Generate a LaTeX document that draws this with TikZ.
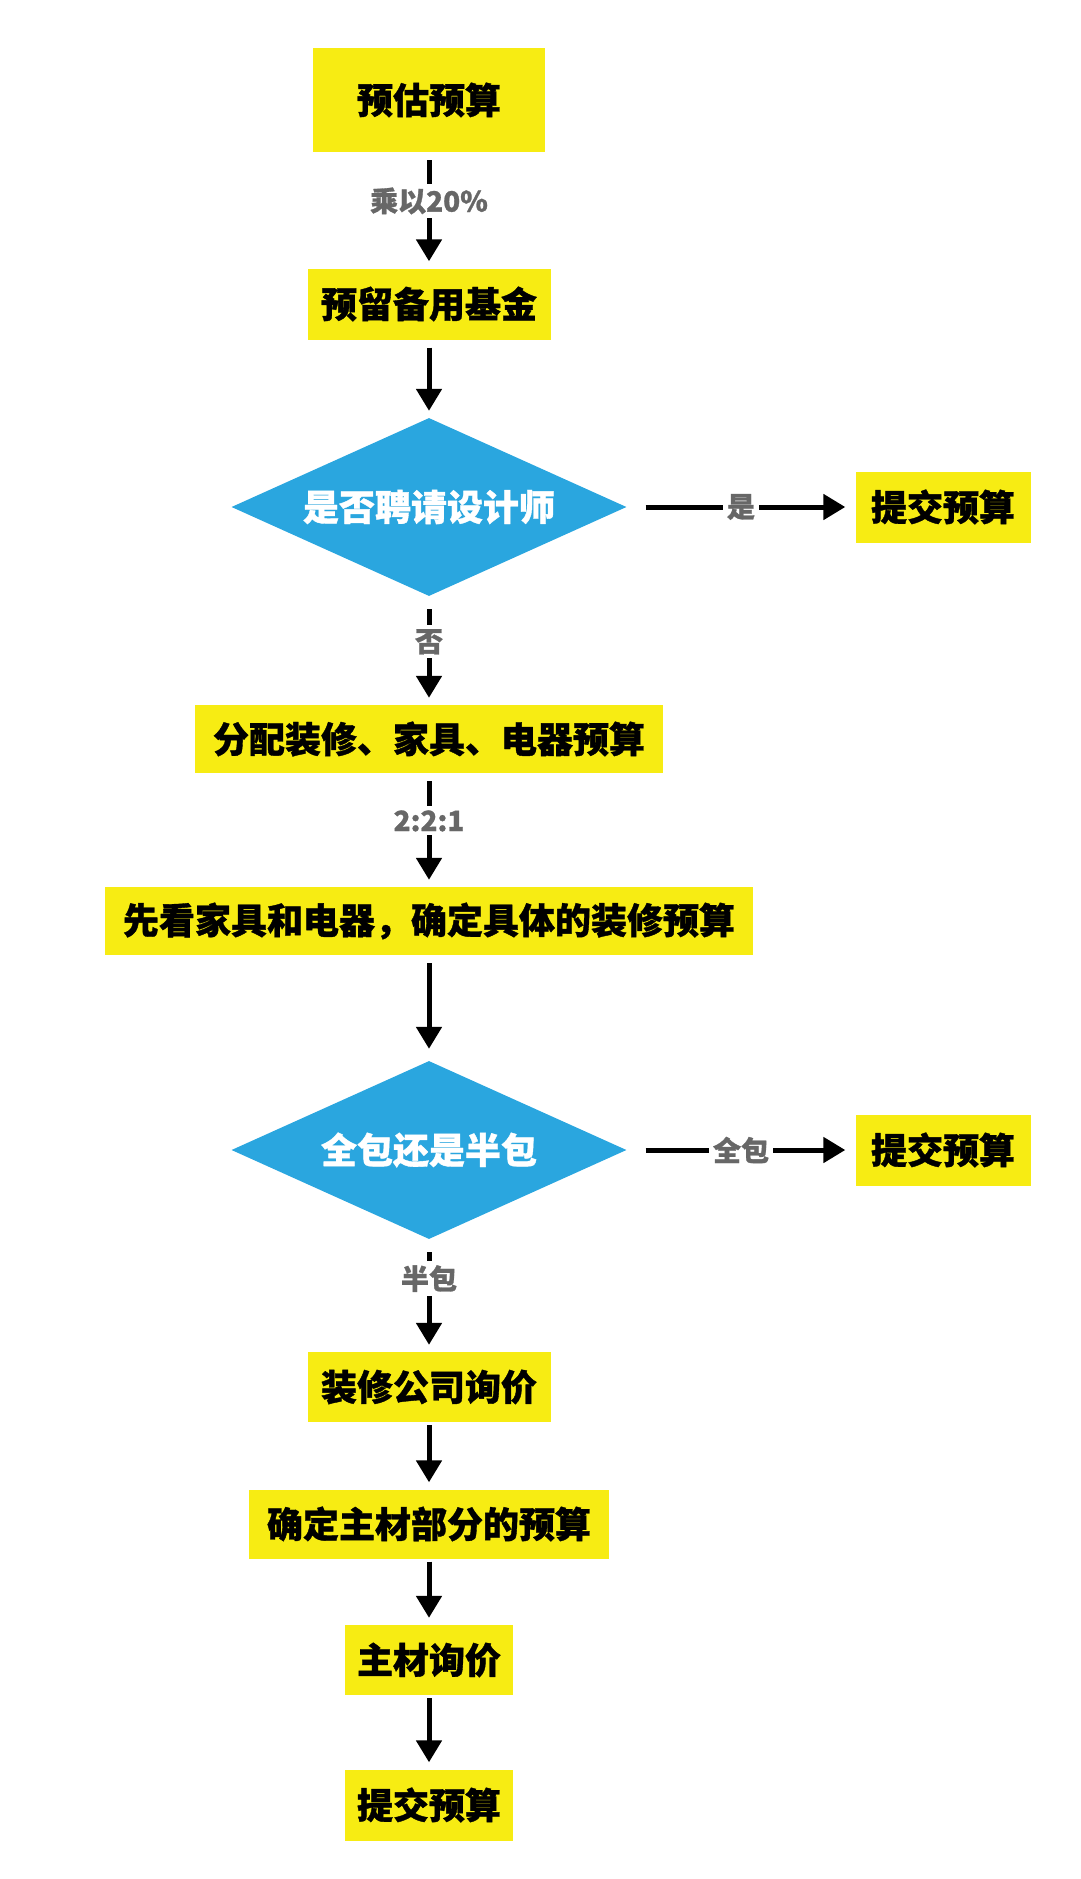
\documentclass[tikz,border=0pt]{standalone}
\usepackage{fontspec}
\newfontfamily\cjk{Noto Sans CJK SC}[BoldFeatures={FakeBold=1}]
\usetikzlibrary{shapes.geometric,arrows.meta}
\definecolor{boxyellow}{HTML}{F7EC13}
\definecolor{decblue}{HTML}{2AA6DF}
\definecolor{lblgray}{HTML}{676767}

\begin{document}
\begin{tikzpicture}[x=1pt, y=1pt,
    stepbox/.style={fill=boxyellow, inner sep=0pt, font=\cjk\bfseries\fontsize{36}{40}\selectfont},
    decide/.style={diamond, aspect=2.22, fill=decblue, text=white, inner sep=0pt, minimum width=395pt, minimum height=178pt, font=\cjk\bfseries\fontsize{36}{40}\selectfont},
    flow/.style={line width=5pt, -{Triangle[width=25pt,length=22pt]}, shorten <=8pt, shorten >=7pt},
    lbl/.style={fill=white, text=lblgray, inner sep=4pt, pos=0.42, font=\cjk\bfseries\fontsize{28}{32}\selectfont}]
    \useasboundingbox (0,0) rectangle (1080,-1879);

    % Main column of steps
    \node[stepbox, minimum width=232pt, minimum height=104pt] (est) at (429,-100) {预估预算};
    \node[stepbox, minimum width=243pt, minimum height=71pt] (fund) at (429,-304) {预留备用基金};
    \node[decide] (design) at (429,-507) {是否聘请设计师};
    \node[stepbox, minimum width=468pt, minimum height=68pt] (split) at (429,-739) {分配装修、家具、电器预算};
    \node[stepbox, minimum width=648pt, minimum height=68pt] (look) at (429,-921) {先看家具和电器，确定具体的装修预算};
    \node[decide] (pack) at (429,-1150) {全包还是半包};
    \node[stepbox, minimum width=243pt, minimum height=70pt] (quote) at (429,-1387) {装修公司询价};
    \node[stepbox, minimum width=360pt, minimum height=69pt] (mainmat) at (429,-1524) {确定主材部分的预算};
    \node[stepbox, minimum width=168pt, minimum height=70pt] (mquote) at (429,-1660) {主材询价};
    \node[stepbox, minimum width=168pt, minimum height=71pt] (submitC) at (429,-1805) {提交预算};

    % Side exits
    \node[stepbox, minimum width=175pt, minimum height=71pt] (submitA) at (943,-507) {提交预算};
    \node[stepbox, minimum width=175pt, minimum height=71pt] (submitB) at (943,-1150) {提交预算};

    % Connectors
    \draw[flow] (est) -- node[lbl] {乘以20\%} (fund);
    \draw[flow] (fund) -- (design);
    \draw[flow, shorten <=13pt] (design) -- node[lbl] {否} (split);
    \draw[flow] (split) -- node[lbl] {2:2:1} (look);
    \draw[flow, shorten >=12pt] (look) -- (pack);
    \draw[flow, shorten <=13pt] (pack) -- node[lbl, pos=0.35] {半包} (quote);
    \draw[flow, shorten <=3pt] (quote) -- (mainmat);
    \draw[flow, shorten <=3pt] (mainmat) -- (mquote);
    \draw[flow, shorten <=3pt] (mquote) -- (submitC);
    \draw[flow, shorten <=19pt, shorten >=10pt] (design) -- node[lbl, pos=0.5] {是} (submitA);
    \draw[flow, shorten <=19pt, shorten >=10pt] (pack) -- node[lbl, pos=0.5] {全包} (submitB);

\end{tikzpicture}
\end{document}
